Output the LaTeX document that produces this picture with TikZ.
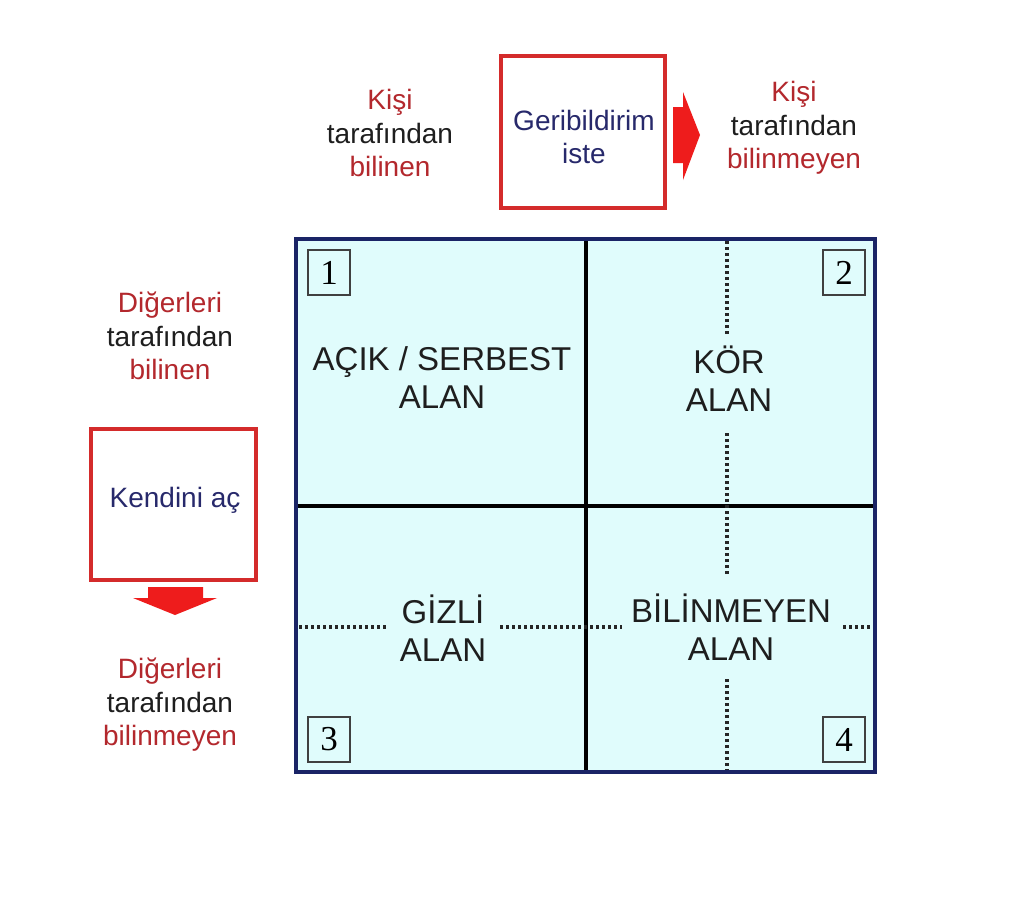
\documentclass[tikz,border=0pt]{standalone}
\usepackage{fontspec}
\setmainfont{Liberation Sans}
\newfontfamily\numfont{Liberation Serif}
\definecolor{cellfill}{HTML}{E0FCFC}
\definecolor{navyline}{HTML}{1A2466}
\definecolor{boxred}{HTML}{D42B2B}
\definecolor{txtred}{HTML}{B3282D}
\definecolor{txtnavy}{HTML}{27296B}
\definecolor{arrred}{HTML}{EE1C1C}
\definecolor{txtdark}{HTML}{1E1E1E}
\begin{document}
\begin{tikzpicture}[x=1pt,y=-1pt,
  lab/.style={align=center,font=\fontsize{28}{33.5}\selectfont,text=txtdark,inner sep=0pt},
  cell/.style={align=center,font=\fontsize{33}{38}\selectfont,text=txtdark,inner sep=0pt},
  numbox/.style={draw=black!75,line width=2pt,minimum width=42pt,minimum height=45pt,inner sep=0pt,font=\numfont\fontsize{35}{35}\selectfont,anchor=north west},
  redbox/.style={draw=boxred,line width=3.5pt},
  dots/.style={line width=3.5pt,dash pattern=on 3pt off 3pt,black!85},
  divline/.style={line width=3.6pt,black}]
\useasboundingbox (0,0) rectangle (1024,905);
\fill[white] (0,0) rectangle (1024,905);

% grid
\fill[cellfill] (296,239) rectangle (875,772);
\draw[divline] (586,239) -- (586,772);
\draw[divline] (296,506) -- (875,506);
% dotted lines
\draw[dots] (727,241) -- (727,336);
\draw[dots] (727,433) -- (727,575);
\draw[dots] (727,679) -- (727,771);
\draw[dots] (299,627) -- (386,627);
\draw[dots] (500,627) -- (622,627);
\draw[dots] (843,627) -- (872,627);
\draw[navyline,line width=4pt] (296,239) rectangle (875,772);

% number boxes
\node[numbox] (n1) at (307,249) {1};
\node[numbox] (n2) at (822,249) {2};
\node[numbox] (n3) at (307,716) {3};
\node[numbox] (n4) at (822,716) {4};

% cell labels
\node[cell] (c1) at (442,378) {AÇIK / SERBEST\\ALAN};
\node[cell] (c2) at (729,379) {KÖR\\ALAN};
\node[cell] (c3) at (443,628) {GİZLİ\\ALAN};
\node[cell] (c4) at (731,627) {BİLİNMEYEN\\ALAN};

% top
\node[lab] (tl) at (390,133) {\textcolor{txtred}{Kişi}\\tarafından\\\textcolor{txtred}{bilinen}};
\draw[redbox] (501,56) rectangle (665,208);
\node[lab,text=txtnavy] (gb) at (584,137) {Geribildirim\\iste};
\fill[arrred] (673,107) -- (683,107) -- (683,92) -- (700,135) -- (683,180) -- (683,163) -- (673,163) -- cycle;
\node[lab] (tr) at (794,128) {\textcolor{txtred}{Kişi}\\tarafından\\\textcolor{txtred}{bilinmeyen}};

% left
\node[lab] (lt) at (170,336) {\textcolor{txtred}{Diğerleri}\\tarafından\\\textcolor{txtred}{bilinen}};
\draw[redbox] (91,429) rectangle (256,580);
\node[lab,text=txtnavy] (ka) at (175,500) {Kendini aç};
\fill[arrred] (148,587) -- (203,587) -- (203,598) -- (217,598) -- (175,615) -- (133,598) -- (148,598) -- cycle;
\node[lab] (lb) at (170,705) {\textcolor{txtred}{Diğerleri}\\tarafından\\\textcolor{txtred}{bilinmeyen}};
\end{tikzpicture}
\end{document}
